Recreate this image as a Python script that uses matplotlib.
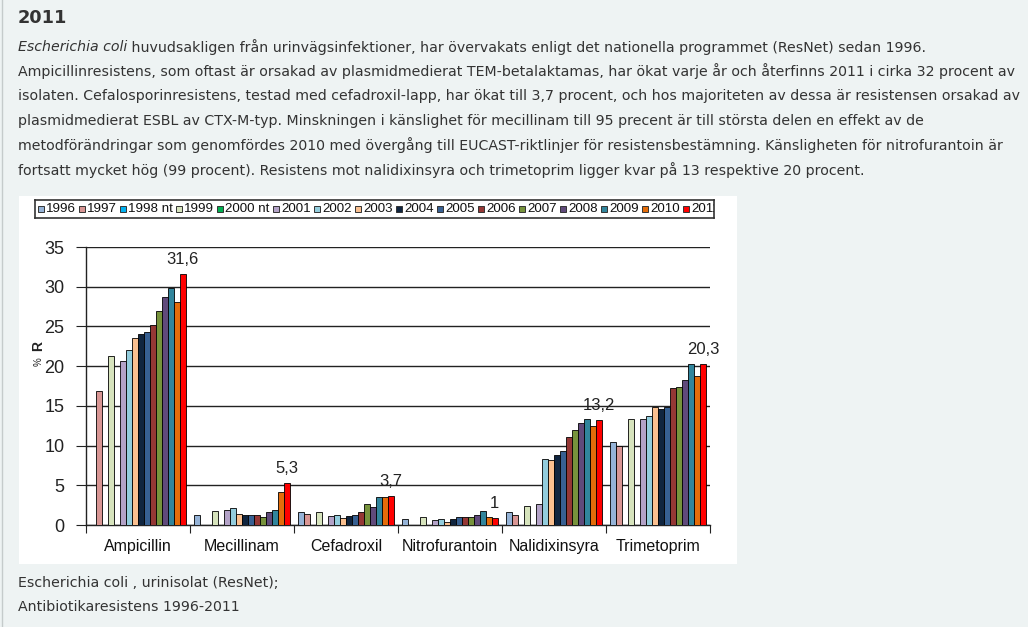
import numpy as np
import matplotlib
matplotlib.use("Agg")
import matplotlib.pyplot as plt
from matplotlib.patches import Rectangle

W, H = 1028, 627
nan = np.nan

# --- data ---
categories = ['Ampicillin', 'Mecillinam', 'Cefadroxil', 'Nitrofurantoin',
              'Nalidixinsyra', 'Trimetoprim']
years = ['1996', '1997', '1998 nt', '1999', '2000 nt', '2001', '2002', '2003',
         '2004', '2005', '2006', '2007', '2008', '2009', '2010', '2011']
colors = ['#95b3d7', '#d99694', '#00b0f0', '#d7e4bd', '#00b050', '#b3a2c7',
          '#93cddd', '#fac090', '#10253f', '#376092', '#953735', '#77933c',
          '#604a7b', '#31859c', '#e46c0a', '#ff0000']

# one list per antibiotic, one value per year (nan = not tested / no bar)
ampicillin     = [nan, 16.9, nan, 21.3, nan, 20.7, 22.0, 23.5, 24.0, 24.3, 25.2, 27.0, 28.7, 29.9, 28.1, 31.6]
mecillinam     = [1.2, nan, nan, 1.8, nan, 1.9, 2.1, 1.4, 1.2, 1.2, 1.2, 1.0, 1.6, 1.9, 4.2, 5.3]
cefadroxil     = [1.6, 1.4, nan, 1.6, nan, 1.1, 1.3, 0.9, 1.1, 1.3, 1.6, 2.7, 2.3, 3.5, 3.5, 3.7]
nitrofurantoin = [0.8, nan, nan, 1.0, nan, 0.6, 0.8, 0.4, 0.8, 1.0, 1.0, 1.0, 1.3, 1.8, 1.0, 0.9]
nalidixinsyra  = [1.6, 1.3, nan, 2.4, nan, 2.7, 8.3, 8.2, 8.8, 9.3, 11.1, 11.9, 12.8, 13.3, 12.5, 13.2]
trimetoprim    = [10.4, 9.9, nan, 13.3, nan, 13.4, 13.7, 14.9, 14.6, 14.9, 17.3, 17.4, 18.2, 20.3, 18.7, 20.3]
label_2011 = ['31,6', '5,3', '3,7', '1', '13,2', '20,3']

table = np.array([ampicillin, mecillinam, cefadroxil, nitrofurantoin,
                  nalidixinsyra, trimetoprim])

intro_lines = [
    "Ampicillinresistens, som oftast är orsakad av plasmidmedierat TEM-betalaktamas, har ökat varje år och återfinns 2011 i cirka 32 procent av",
    "isolaten. Cefalosporinresistens, testad med cefadroxil-lapp, har ökat till 3,7 procent, och hos majoriteten av dessa är resistensen orsakad av",
    "plasmidmedierat ESBL av CTX-M-typ. Minskningen i känslighet för mecillinam till 95 precent är till största delen en effekt av de",
    "metodförändringar som genomfördes 2010 med övergång till EUCAST-riktlinjer för resistensbestämning. Känsligheten för nitrofurantoin är",
    "fortsatt mycket hög (99 procent). Resistens mot nalidixinsyra och trimetoprim ligger kvar på 13 respektive 20 procent.",
]
first_italic = "Escherichia coli"
first_rest = " huvudsakligen från urinvägsinfektioner, har övervakats enligt det nationella programmet (ResNet) sedan 1996."
caption = ["Escherichia coli , urinisolat (ResNet);", "Antibiotikaresistens 1996-2011"]


def fx(x):
    return x / W


def fy(y):
    return 1 - y / H


fig = plt.figure(figsize=(W / 100, H / 100), dpi=100, facecolor='#eef3f3')
renderer = fig.canvas.get_renderer()
txtcol = '#333333'

# page left border
fig.add_artist(plt.Line2D([fx(1.5), fx(1.5)], [0, 1], color='#c5cbcb', lw=1))

# heading
fig.text(fx(18), fy(18), "2011", fontsize=12.8, fontweight='bold', color=txtcol,
         va='center', ha='left', family='DejaVu Sans')

# fit body font size so line 2 is as wide as in the page
probe = fig.text(0, 0, intro_lines[0], fontsize=10, family='DejaVu Sans')
wpx = probe.get_window_extent(renderer).width
probe.remove()
body_fs = 10 * 994 / wpx

line_y = [47, 71.5, 96, 121, 145.5, 170]
t_it = fig.text(fx(18), fy(line_y[0]), first_italic, fontsize=body_fs, style='italic',
                color=txtcol, va='center', family='DejaVu Sans')
bb = t_it.get_window_extent(renderer)
fig.text(fx(18 + bb.width), fy(line_y[0]), first_rest, fontsize=body_fs, color=txtcol,
         va='center', family='DejaVu Sans')
for y, line in zip(line_y[1:], intro_lines):
    fig.text(fx(18), fy(y), line, fontsize=body_fs, color=txtcol, va='center',
             family='DejaVu Sans')

for y, line in zip([583, 607], caption):
    fig.text(fx(18), fy(y), line, fontsize=body_fs, color=txtcol, va='center',
             family='DejaVu Sans')

# white chart image
fig.add_artist(Rectangle((fx(19), fy(564)), fx(737 - 19), (564 - 196) / H,
                         transform=fig.transFigure, facecolor='white',
                         edgecolor='none', zorder=0))

# --- bar chart ---
ax = fig.add_axes([fx(86), fy(525), fx(710 - 86), (525 - 247) / H])
ax.set_facecolor('white')
n_years = len(years)
bw = 0.0575
start = 0.04
for j in range(n_years):
    for i in range(len(categories)):
        v = table[i, j]
        if np.isnan(v):
            continue
        ax.bar(i + start + j * bw, v, width=bw, align='edge', color=colors[j],
               edgecolor='black', linewidth=0.6, zorder=3)

for i, lbl in enumerate(label_2011):
    xc = i + start + (n_years - 0.5) * bw
    ax.annotate(lbl, (xc, table[i, -1]), xytext=(0, 7), textcoords='offset pixels',
                ha='center', va='bottom', fontsize=12, family='Liberation Sans',
                color='#222222')

ax.set_xlim(0, len(categories))
ax.set_ylim(0, 35)
ax.set_yticks(np.arange(0, 36, 5))
ax.yaxis.grid(True, color='#222222', lw=1, zorder=0)
ax.set_xticks(np.arange(0, len(categories) + 1))
ax.set_xticklabels([])
ax.set_xticks(np.arange(len(categories)) + 0.5, minor=True)
ax.set_xticklabels(categories, minor=True, fontsize=11.5, family='Liberation Sans',
                   color='#111111')
ax.tick_params(axis='x', which='major', direction='out', length=6, color='#222222')
ax.tick_params(axis='x', which='minor', length=0, pad=10)
ax.tick_params(axis='y', direction='out', length=7, color='#222222', pad=8.5,
               labelsize=13, labelcolor='#222222')
for lab in ax.get_yticklabels():
    lab.set_family('Liberation Sans')
for s in ['top', 'right']:
    ax.spines[s].set_visible(False)
for s in ['left', 'bottom']:
    ax.spines[s].set_color('#222222')
    ax.spines[s].set_linewidth(1)

# y label "% R"
fig.text(fx(38), fy(346), "R", rotation=90, fontsize=10, fontweight='bold',
         family='Liberation Sans', ha='center', va='center', color='#222222')
fig.text(fx(38.5), fy(362), "%", rotation=90, fontsize=7, family='Liberation Sans',
         ha='center', va='center', color='#222222')

# legend box, clipped on the right like the original image
lx0, lx1, ly0, ly1 = 35, 714, 200, 218
lax = fig.add_axes([fx(lx0), fy(ly1), fx(lx1 - lx0), (ly1 - ly0) / H])
lax.set_xlim(0, lx1 - lx0)
lax.set_ylim(ly1 - ly0, 0)
lax.set_xticks([])
lax.set_yticks([])
for s in lax.spines.values():
    s.set_color('#333333')
    s.set_linewidth(1.2)
xpos = 2.5
for yr, c in zip(years, colors):
    lax.add_patch(Rectangle((xpos, 5.5), 6.5, 6.5, facecolor=c, edgecolor='#333333',
                            lw=0.7, clip_on=True))
    lax.text(xpos + 8.5, 9.2, yr, fontsize=9.6, family='Liberation Sans', va='center',
             ha='left', color='#111111', clip_on=True)
    xpos += 56 if 'nt' in yr else 41

fig.savefig('out.png', dpi=100, facecolor=fig.get_facecolor())
